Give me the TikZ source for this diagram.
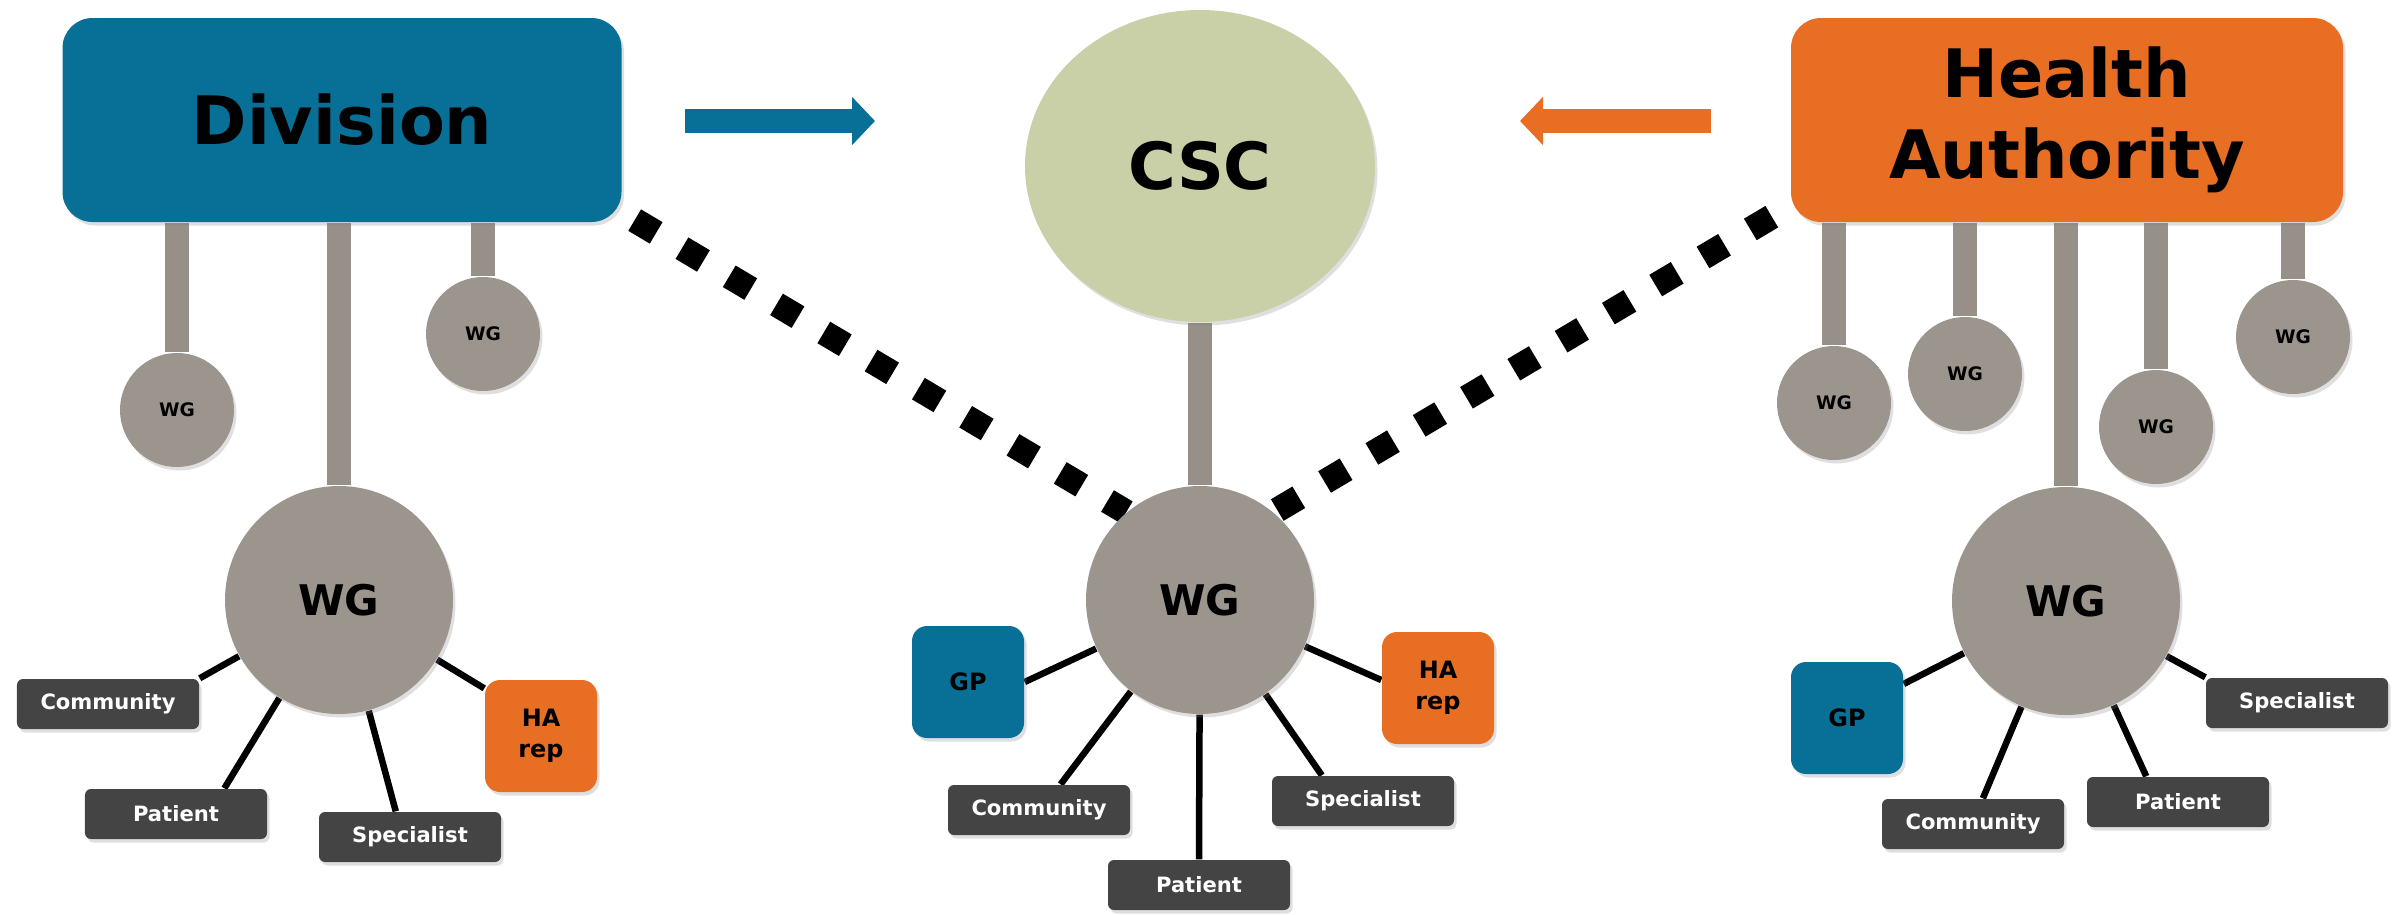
\documentclass[tikz,border=0pt]{standalone}
\usepackage{fontspec}
\setmainfont{DejaVu Sans}
\usetikzlibrary{arrows.meta}
\usetikzlibrary{shapes.geometric}
\usetikzlibrary{backgrounds}
\usetikzlibrary{shadows}

\definecolor{divblue}{RGB}{8,112,150}
\definecolor{haorange}{RGB}{232,110,36}
\definecolor{wggray}{RGB}{155,149,142}
\definecolor{stemgray}{RGB}{150,144,136}
\definecolor{cscgreen}{RGB}{201,208,168}
\definecolor{tagdark}{RGB}{68,68,68}

\begin{document}
\begin{tikzpicture}[
        soft/.style={drop shadow={opacity=0.25,shadow xshift=0.025cm,shadow yshift=-0.035cm}},
        bigbox/.style={soft,rectangle,rounded corners=0.3cm,minimum height=2.04cm,inner sep=0,
            align=center,font=\fontsize{19}{23}\selectfont\bfseries},
        csc/.style={soft,ellipse,fill=cscgreen,minimum width=3.5cm,minimum height=3.12cm,inner sep=0,
            font=\fontsize{18.5}{22}\selectfont\bfseries},
        wg/.style={soft,circle,fill=wggray,minimum size=2.28cm,inner sep=0,
            font=\fontsize{12}{14}\selectfont\bfseries},
        wgs/.style={soft,circle,fill=wggray,minimum size=1.14cm,inner sep=0,
            font=\fontsize{5.3}{6}\selectfont\bfseries},
        tag/.style={soft,rectangle,rounded corners=0.06cm,fill=tagdark,text=white,
            minimum width=1.82cm,minimum height=0.5cm,inner sep=0,font=\fontsize{6}{7}\selectfont\bfseries},
        rep/.style={soft,rectangle,rounded corners=0.15cm,minimum size=1.12cm,inner sep=0,
            align=center,font=\fontsize{6.8}{8.8}\selectfont\bfseries},
        stem/.style={draw=stemgray,line width=0.24cm},
        link/.style={draw=black,line width=0.065cm},
        dotline/.style={draw=black,line width=0.25cm,dash pattern=on 0.25cm off 0.3cm,dash phase=0.405cm},
        bigarrow/.style={line width=0.24cm,-{Triangle[length=0.23cm,width=0.47cm]}}]
        \useasboundingbox (0,0) rectangle (23.98,9.14);

        \node [bigbox,fill=divblue,minimum width=5.59cm] (d) at (3.42,7.94) {Division};
        \node [csc] (c) at (12.00,7.48) {CSC};
        \node [bigbox,fill=haorange,minimum width=5.52cm] (h) at (20.67,7.94) {Health\\Authority};

        \coordinate (a0) at (6.85,7.93);
        \coordinate (a1) at (8.75,7.93);
        \coordinate (b0) at (17.11,7.93);
        \coordinate (b1) at (15.20,7.93);
        \draw [bigarrow,divblue] (a0) -- (a1);
        \draw [bigarrow,haorange] (b0) -- (b1);

        \node [wgs] (d1) at (1.77,5.04) {WG};
        \node [wgs] (d2) at (4.83,5.80) {WG};
        \node [wg] (dw) at (3.39,3.14) {WG};
        \node [tag] (dc) at (1.08,2.10) {Community};
        \node [tag] (dp) at (1.76,1.00) {Patient};
        \node [tag] (ds) at (4.10,0.77) {Specialist};
        \node [rep,fill=haorange] (dr) at (5.41,1.78) {HA\\rep};

        \node [wg] (cw) at (12.00,3.14) {WG};
        \node [rep,fill=divblue] (cg) at (9.68,2.32) {GP};
        \node [rep,fill=haorange] (cr) at (14.38,2.26) {HA\\rep};
        \node [tag] (cc) at (10.39,1.04) {Community};
        \node [tag] (cp) at (11.99,0.29) {Patient};
        \node [tag] (cs) at (13.63,1.13) {Specialist};

        \node [wgs] (h1) at (18.34,5.11) {WG};
        \node [wgs] (h2) at (19.65,5.40) {WG};
        \node [wgs] (h3) at (21.56,4.87) {WG};
        \node [wgs] (h4) at (22.93,5.77) {WG};
        \node [wg] (hw) at (20.66,3.13) {WG};
        \node [rep,fill=divblue] (hg) at (18.47,1.96) {GP};
        \node [tag] (hc) at (19.73,0.90) {Community};
        \node [tag] (hp) at (21.78,1.12) {Patient};
        \node [tag] (hs) at (22.97,2.11) {Specialist};

        \begin{scope}[on background layer]
            \path [every edge/.style=stem]
                (d1 |- d.south) edge (d1)
                (d2 |- d.south) edge (d2)
                (dw |- d.south) edge (dw)
                (c) edge (cw)
                (h1 |- h.south) edge (h1)
                (h2 |- h.south) edge (h2)
                (hw |- h.south) edge (hw)
                (h3 |- h.south) edge (h3)
                (h4 |- h.south) edge (h4);
            \path [every edge/.style=link]
                (dc.north east) edge (dw)
                (dp.28) edge (dw)
                (ds.119) edge (dw)
                (dr.140) edge (dw)
                (cg.east) edge (cw)
                (cc.50) edge (cw)
                (cp.north) edge (cw)
                (cs.148) edge (cw)
                (cr.172) edge (cw)
                (hg.31) edge (hw)
                (hc.69) edge (hw)
                (hp.141) edge (hw)
                (hs.north west) edge (hw);
            \path [every edge/.style=dotline]
                ([yshift=0.10cm]d.south east) edge (cw.130)
                ([yshift=0.17cm]h.south west) edge [dash phase=0.335cm] (cw.50);
        \end{scope}
    \end{tikzpicture}
\end{document}
